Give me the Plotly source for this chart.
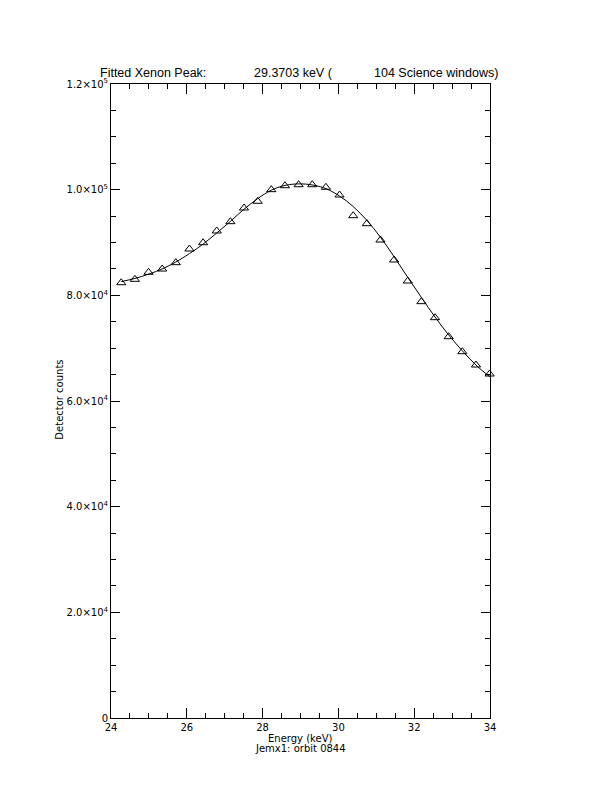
import plotly.graph_objects as go

# ---- data ----
energy_kev = [24.27, 24.63, 24.99, 25.35, 25.71, 26.07, 26.43, 26.79, 27.15, 27.51,
              27.87, 28.23, 28.59, 28.95, 29.31, 29.67, 30.03, 30.39, 30.75, 31.11,
              31.47, 31.83, 32.19, 32.55, 32.91, 33.27, 33.63, 33.99]
counts = [82390, 83030, 84360, 84980, 86180, 88770, 89960, 92180, 93940, 96530,
          97800, 100000, 100750, 100940, 100940, 100450, 98990, 95070, 93560, 90470,
          86690, 82710, 78800, 75770, 72170, 69330, 66810, 65110]
fit_counts = [82600, 83200, 84000, 85000, 86300, 87900, 89700, 91800, 94000, 96300,
              98300, 99900, 100800, 101100, 100900, 100200, 98800, 96800, 94200, 91000,
              87300, 83400, 79600, 75900, 72500, 69500, 66800, 64600]

y_tick_vals = [0, 20000, 40000, 60000, 80000, 100000, 120000]
y_tick_text = ["0", "2.0×10<sup>4</sup>", "4.0×10<sup>4</sup>", "6.0×10<sup>4</sup>",
               "8.0×10<sup>4</sup>", "1.0×10<sup>5</sup>", "1.2×10<sup>5</sup>"]
x_tick_vals = [24, 26, 28, 30, 32, 34]

title_parts = ["Fitted Xenon Peak:", "29.3703 keV (", "104 Science windows)"]

FONT = "DejaVu Sans"
TFONT = "Liberation Sans Narrow, Liberation Sans, Arial, sans-serif"

# page -> plot-fraction helpers (page has an 8px body margin)
PL, PR, PT, PB = 110.5, 490.5, 84.0, 718.0


def px_x(x):
    return (x - PL) / (PR - PL)


def px_y(y):
    return (PB - y) / (PB - PT)


fig = go.Figure()
fig.add_trace(go.Scatter(x=energy_kev, y=fit_counts, mode="lines",
                         line=dict(color="black", width=1, shape="spline"),
                         showlegend=False))
fig.add_trace(go.Scatter(x=energy_kev, y=counts, mode="markers",
                         marker=dict(symbol="triangle-up-open", size=8,
                                     color="black", line=dict(width=1, color="black")),
                         showlegend=False, cliponaxis=False))

annotations = []
for txt, xl in zip(title_parts, [97, 252, 372]):
    annotations.append(dict(text=txt, xref="paper", yref="paper", x=px_x(xl),
                            y=px_y(73), xanchor="left", yanchor="middle", showarrow=False,
                            font=dict(size=12.5, family=TFONT)))
annotations += [
    dict(text="Energy (keV)", xref="paper", yref="paper", x=px_x(300),
         y=px_y(738), xanchor="center", yanchor="middle", showarrow=False,
         font=dict(size=10, family=FONT)),
    dict(text="Jemx1: orbit 0844", xref="paper", yref="paper", x=px_x(300),
         y=px_y(748), xanchor="center", yanchor="middle", showarrow=False,
         font=dict(size=10, family=FONT)),
    dict(text="Detector counts", xref="paper", yref="paper", x=px_x(58),
         y=px_y(400), xanchor="center", yanchor="middle", showarrow=False,
         textangle=-90, font=dict(size=10, family=FONT)),
]

fig.update_layout(
    width=612, height=792,
    margin=dict(l=PL - 8, r=612 - (PR - 8), t=PT - 8, b=792 - (PB - 8), pad=0),
    paper_bgcolor="white", plot_bgcolor="white",
    font=dict(family=FONT, size=10, color="black"),
    xaxis=dict(range=[24, 34], tickvals=x_tick_vals, ticktext=[str(v) for v in x_tick_vals],
               ticks="inside", ticklen=10, tickwidth=1, tickcolor="black",
               showline=True, linecolor="black", linewidth=1, mirror="allticks",
               showgrid=False, zeroline=False,
               minor=dict(dtick=0.5, ticks="inside", ticklen=5, tickcolor="black",
                          tickwidth=1, showgrid=False),
               tickfont=dict(size=10)),
    yaxis=dict(range=[0, 120000], tickvals=y_tick_vals, ticktext=y_tick_text,
               ticks="inside", ticklen=9, tickwidth=1, tickcolor="black",
               showline=True, linecolor="black", linewidth=1, mirror="allticks",
               showgrid=False, zeroline=False,
               minor=dict(dtick=5000, tick0=0, ticks="inside", ticklen=5, tickcolor="black",
                          tickwidth=1, showgrid=False),
               tickfont=dict(size=10)),
    annotations=annotations,
)

fig.write_html("out.html")
